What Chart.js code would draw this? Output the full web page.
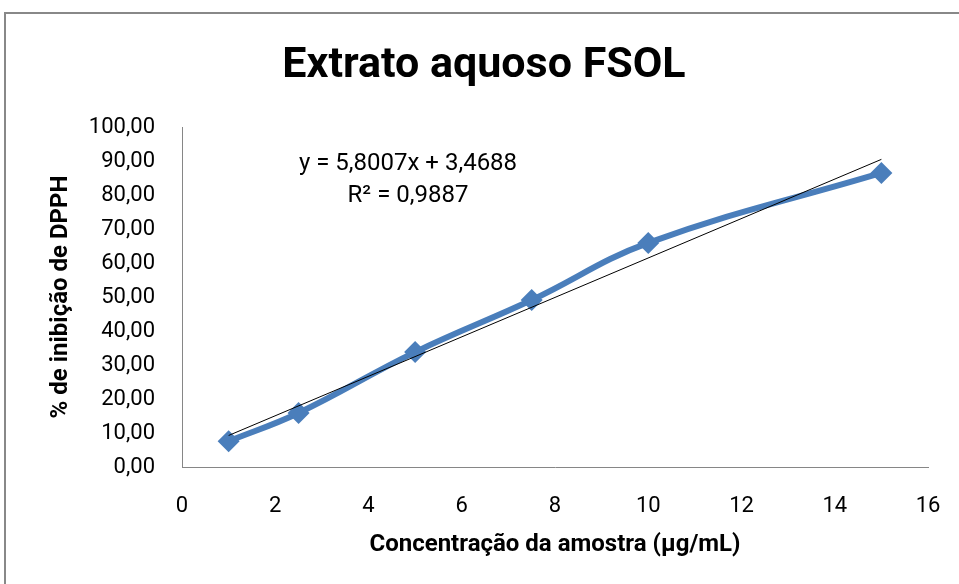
<!DOCTYPE html>
<html>
<head>
<meta charset="utf-8">
<script src="https://cdn.jsdelivr.net/npm/chart.js@4/dist/chart.umd.min.js"></script>
<style>
  html, body { margin: 0; padding: 0; background: #ffffff; }
  #wrap { width: 959px; height: 584px; position: relative; }
</style>
</head>
<body>
<div id="wrap"><canvas id="c" width="959" height="584"></canvas></div>
<script>
// ---- data ----
const concentrations = [1, 2.5, 5, 7.5, 10, 15];
const inhibition = [7.6, 15.9, 33.8, 49.1, 65.9, 86.5];
const trendSlope = 5.8007;
const trendIntercept = 3.4688;
const trendX = [1, 15];
const equationLines = ['y = 5,8007x + 3,4688', 'R² = 0,9887'];
const chartTitle = 'Extrato aquoso FSOL';
const xTitle = 'Concentração da amostra (µg/mL)';
const yTitle = '% de inibição de DPPH';

const FONT = "Roboto, 'Noto Sans', sans-serif";

const mainPoints = concentrations.map((x, i) => ({ x: x, y: inhibition[i] }));
const trendPoints = trendX.map(x => ({ x: x, y: trendSlope * x + trendIntercept }));

const framePlugin = {
  id: 'frame',
  beforeDraw(chart) {
    const ctx = chart.ctx;
    ctx.save();
    ctx.fillStyle = '#ffffff';
    ctx.fillRect(0, 0, chart.width, chart.height);
    ctx.strokeStyle = '#888888';
    ctx.lineWidth = 2;
    ctx.strokeRect(5, 13, 1000, 620);
    ctx.restore();
  }
};

const equationPlugin = {
  id: 'equation',
  afterDatasetsDraw(chart) {
    const ctx = chart.ctx;
    ctx.save();
    ctx.fillStyle = '#000000';
    ctx.font = '24px ' + FONT;
    ctx.textAlign = 'center';
    ctx.textBaseline = 'middle';
    ctx.fillText(equationLines[0], 408, 164);
    ctx.fillText(equationLines[1], 408, 196);
    ctx.restore();
  }
};

new Chart(document.getElementById('c'), {
  type: 'scatter',
  data: {
    datasets: [
      {
        label: 'Linear',
        data: trendPoints,
        showLine: true,
        borderColor: '#000000',
        borderWidth: 1,
        pointRadius: 0,
        pointHoverRadius: 0,
        tension: 0
      },
      {
        label: 'Extrato aquoso',
        data: mainPoints,
        showLine: true,
        borderColor: '#4A7EBB',
        backgroundColor: '#4A7EBB',
        borderWidth: 6,
        tension: 0.4,
        pointStyle: 'rectRot',
        pointRadius: 11,
        pointBorderWidth: 0,
        pointBorderColor: '#4A7EBB',
        pointBackgroundColor: '#4A7EBB'
      }
    ]
  },
  options: {
    responsive: false,
    animation: false,
    events: [],
    layout: { padding: { left: 40, right: 31, top: 0, bottom: 0 } },
    plugins: {
      legend: { display: false },
      tooltip: { enabled: false },
      title: {
        display: true,
        text: chartTitle,
        color: '#000000',
        font: { family: FONT, size: 43, weight: 'bold', lineHeight: 1.2 },
        padding: { top: 40, bottom: 35.4 }
      }
    },
    scales: {
      x: {
        type: 'linear',
        min: 0,
        max: 16,
        ticks: {
          stepSize: 2,
          color: '#000000',
          font: { family: FONT, size: 22 },
          padding: 26,
          maxRotation: 0
        },
        grid: { display: false, drawTicks: false },
        border: { display: true, color: '#868686', width: 1 },
        title: {
          display: true,
          text: xTitle,
          color: '#000000',
          font: { family: FONT, size: 24, weight: 'bold', lineHeight: 1.2 },
          padding: { top: 0, bottom: 25 }
        },
        afterFit(scale) {
          scale.height = 117;
          scale.paddingLeft = 0;
          scale.paddingRight = 0;
        }
      },
      y: {
        type: 'linear',
        min: 0,
        max: 100,
        ticks: {
          stepSize: 10,
          color: '#000000',
          font: { family: FONT, size: 22 },
          padding: 27,
          callback: v => v.toFixed(2).replace('.', ',')
        },
        grid: { display: false, drawTicks: false },
        border: { display: true, color: '#868686', width: 1 },
        title: {
          display: true,
          text: yTitle,
          color: '#000000',
          font: { family: FONT, size: 24, weight: 'bold', lineHeight: 1.2 },
          padding: { top: 6.6, bottom: 0 }
        },
        afterFit(scale) { scale.width = 142; }
      }
    }
  },
  plugins: [framePlugin, equationPlugin]
});
</script>
</body>
</html>
